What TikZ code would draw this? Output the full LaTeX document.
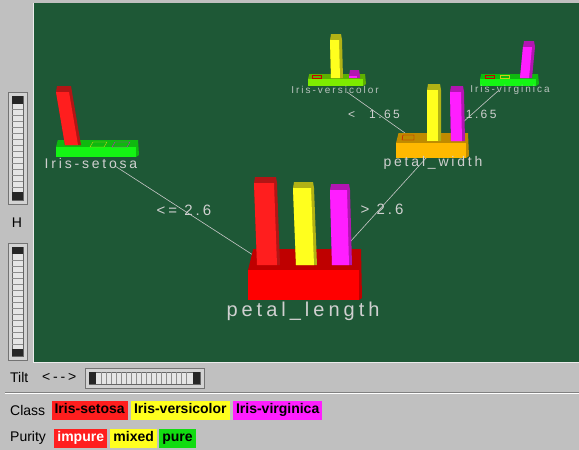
\documentclass[tikz,border=0pt]{standalone}
\usepackage{fontspec}
\setmainfont{Liberation Sans}
\newfontfamily\scenefont[LetterSpace=20]{Liberation Sans}
\usetikzlibrary{positioning}
\pgfdeclarelayer{background}
\pgfdeclarelayer{foreground}
\pgfsetlayers{background,main,foreground}
\definecolor{board}{RGB}{30,88,54}
\definecolor{panel}{RGB}{192,192,192}
\definecolor{scenegray}{RGB}{208,208,208}
\definecolor{leafgray}{RGB}{185,195,190}
\definecolor{edgegray}{RGB}{200,200,200}
\definecolor{cred}{RGB}{255,30,30}
\definecolor{cyellow}{RGB}{255,255,30}
\definecolor{cmagenta}{RGB}{255,30,255}
\definecolor{cgreen}{RGB}{20,245,20}
\definecolor{clime}{RGB}{125,235,0}
\definecolor{corange}{RGB}{255,185,0}
\newcommand{\plinth}[6]{%
\fill[#6!75!black] (#1,#2) -- (#1+#5/4,#2-#5) -- (#3+2,#2-#5) -- (#3+3,#4-2) -- (#3,#4) -- cycle;
\fill[#6] (#1,#2) rectangle (#3,#4);
}
\newcommand{\pillar}[6]{%
\fill[#6!70!black] (#1,#2) -- (#3,#4) -- (#3+1,#4-6) -- (#3+#5+2,#4-6) -- (#3+#5+3,#4) -- (#1+#5+3,#2) -- cycle;
\fill[#6] (#1,#2) -- (#3,#4) -- (#3+#5,#4) -- (#1+#5,#2) -- cycle;
}

\begin{document}
\begin{tikzpicture}[x=1pt,y=-1pt,
  scenelabel/.style={text=scenegray,inner sep=0pt,font=\scenefont\fontsize{14}{14}\selectfont},
  leaflabel/.style={text=leafgray,inner sep=0pt,font=\scenefont\fontsize{10}{10}\selectfont},
  splitlabel/.style={text=scenegray,inner sep=0pt,font=\scenefont\fontsize{15}{15}\selectfont},
  treeedge/.style={draw=edgegray,line width=0.6pt},
  uitext/.style={inner sep=0pt,anchor=west,font=\fontsize{14}{14}\selectfont},
  legbox/.style={inner xsep=3pt,inner ysep=3pt,text height=10pt,text depth=3pt,font=\bfseries\fontsize{14}{14}\selectfont},
  sliderframe/.style={fill=panel!70!white,draw=black!55,line width=0.8pt},
  slidertrack/.style={fill=black!10,draw=black!60},
  slidertick/.style={draw=black!45,line width=0.6pt}]
\useasboundingbox (0,0) rectangle (579,450);
\begin{pgfonlayer}{background}
\fill[panel] (0,0) rectangle (579,450);
\fill[board] (33,3) rectangle (579,362);
\draw[white!85!gray] (33,3) -- (33,362) -- (579,362);
\end{pgfonlayer}

\draw[sliderframe] (8,92) rectangle (27,204);
\draw[slidertrack] (12,96) rectangle (23,200);
\foreach \ty in {109,115,...,187} \draw[slidertick] (12,\ty) -- (23,\ty);
\fill[black!85] (12,96) rectangle (23,104);
\fill[black!85] (12,192) rectangle (23,200);
\node[font=\fontsize{14}{14}\selectfont] (hlab) at (17,223) {H};
\draw[sliderframe] (8,243) rectangle (27,360);
\draw[slidertrack] (12,247) rectangle (23,356);
\foreach \ty in {260,266,...,344} \draw[slidertick] (12,\ty) -- (23,\ty);
\fill[black!85] (12,247) rectangle (23,254);
\fill[black!85] (12,349) rectangle (23,356);

\node[uitext] (tiltlab) at (10,377) {Tilt};
\node[uitext,font=\scenefont\fontsize{14}{14}\selectfont] (tiltarrow) at (42,377) {<-{}-{}>};
\draw[sliderframe] (85,368) rectangle (204,388);
\draw[slidertrack] (89,372) rectangle (200,384);
\foreach \tx in {101,106,...,188} \draw[slidertick] (\tx,372) -- (\tx,384);
\fill[black!85] (89,372) rectangle (96,384);
\fill[black!85] (193,372) rectangle (200,384);
\draw[black!50] (5,392) -- (579,392);
\draw[white] (5,393) -- (579,393);

\node[uitext] (classlab) at (10,410) {Class};
\node[legbox,fill=cred,right=6pt of classlab] (setbox) {Iris-setosa};
\node[legbox,fill=cyellow,right=3pt of setbox] (verbox) {Iris-versicolor};
\node[legbox,fill=cmagenta,right=3pt of verbox] (virbox) {Iris-virginica};
\node[uitext] (puritylab) at (10,438) {Purity};
\node[legbox,fill=cred,text=white,right=8pt of puritylab] (impbox) {impure};
\node[legbox,fill=cyellow,right=3pt of impbox] (mixbox) {mixed};
\node[legbox,fill=cgreen!90!black,right=2pt of mixbox] (purebox) {pure};

\coordinate (set-out) at (115,166);
\coordinate (pl-in) at (253,255);
\coordinate (pl-out) at (350,242);
\coordinate (pw-in) at (427,157);
\coordinate (pw-left) at (405,133);
\coordinate (ver-in) at (347,92);
\coordinate (pw-right) at (462,123);
\coordinate (vir-in) at (498,91);
\node[splitlabel] (lesplit) at (184,210) {<= 2.6};
\node[splitlabel] (gtsplit) at (382,209) {> 2.6};
\node[scenelabel,font=\scenefont\fontsize{12}{12}\selectfont,anchor=west] (lwsplit) at (348,114) {<\hspace{14pt}1.65};
\node[scenelabel,font=\scenefont\fontsize{12}{12}\selectfont,anchor=west] (gwsplit) at (453,114) {> 1.65};
\draw[treeedge] (set-out) -- (pl-in);
\draw[treeedge] (pl-out) -- (pw-in);
\draw[treeedge] (pw-left) -- (ver-in);
\draw[treeedge] (pw-right) -- (vir-in);

\begin{pgfonlayer}{foreground}
\plinth{248}{270}{359}{300}{21}{red}
\pillar{257}{265}{254}{183}{20}{cred}
\pillar{296}{265}{293}{188}{18}{cyellow}
\pillar{332}{265}{330}{190}{17}{cmagenta}
\node[scenelabel,font=\scenefont\fontsize{20}{20}\selectfont] (petallength) at (303,311) {petal\_length};

\plinth{56}{147}{136}{157}{7}{cgreen}
\pillar{65}{145}{56}{92}{13}{cred}
\draw[cyellow!80!black] (90,147) -- (93,142) -- (107,142) -- (104,147) -- cycle;
\draw[cmagenta!80!black] (112,147) -- (115,142) -- (130,142) -- (127,147) -- cycle;
\node[scenelabel] (setosa) at (91,163) {Iris-setosa};

\plinth{396}{143}{466}{158}{10}{corange}
\draw[red!80!black] (402,140) -- (403,135) -- (414,135) -- (414,140) -- cycle;
\pillar{427}{141}{427}{90}{11}{cyellow}
\pillar{451}{141}{450}{92}{11}{cmagenta}
\node[scenelabel] (petalwidth) at (433,163) {petal\_width};

\plinth{308}{79}{363}{86}{5}{clime}
\draw[red!80!black] (312,75.5) rectangle (321,78);
\pillar{331}{78}{330}{40}{9}{cyellow}
\pillar{349}{78}{349}{76}{8}{cmagenta}
\node[leaflabel] (versicolor) at (335,90) {Iris-versicolor};

\plinth{480}{79}{536}{86}{5}{cgreen}
\draw[red!80!black] (485,75.5) rectangle (494,78);
\draw[cyellow!80!black] (500,75.5) rectangle (509,78);
\pillar{520}{78}{523}{47}{9}{cmagenta}
\node[leaflabel] (virginica) at (510,90) {Iris-virginica};
\end{pgfonlayer}
\end{tikzpicture}
\end{document}
